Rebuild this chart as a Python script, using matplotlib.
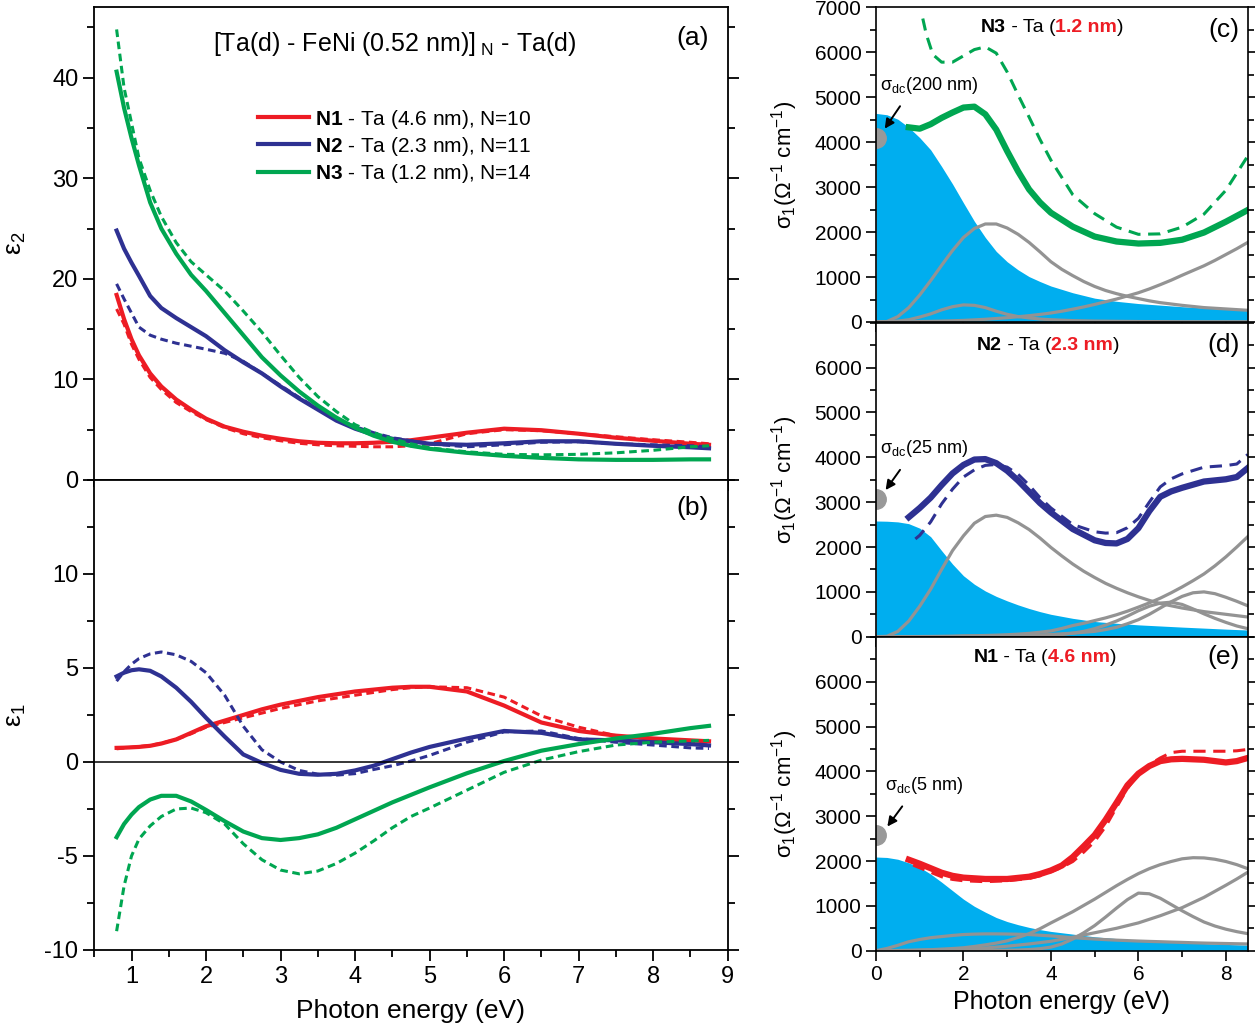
import numpy as np
import matplotlib
matplotlib.use('Agg')
import matplotlib.pyplot as plt
from matplotlib.ticker import MultipleLocator

plt.rcParams['font.family'] = ['Liberation Sans', 'DejaVu Sans']
plt.rcParams['mathtext.fontset'] = 'custom'
plt.rcParams['mathtext.rm'] = 'Liberation Sans'
plt.rcParams['mathtext.it'] = 'Liberation Sans:italic'
plt.rcParams['mathtext.bf'] = 'Liberation Sans:bold'
plt.rcParams['axes.unicode_minus'] = False

RED = '#ED1C24'
BLUE = '#2E3192'
GREEN = '#00A651'
CYAN = '#00AEEF'
GRAY = '#939393'

# ---------------- left panels: epsilon data ----------------
E = [0.8, 0.9, 1.0, 1.1, 1.25, 1.4, 1.6, 1.8, 2.0, 2.25, 2.5, 2.75, 3.0, 3.25, 3.5,
     3.75, 4.0, 4.25, 4.5, 4.75, 5.0, 5.5, 6.0, 6.5, 7.0, 7.5, 8.0, 8.5, 8.75]

eps2_n1 = [18.4, 16.0, 14.0, 12.4, 10.6, 9.3, 8.0, 7.0, 6.1, 5.3, 4.8, 4.4, 4.1, 3.85, 3.7,
           3.65, 3.65, 3.7, 3.8, 3.95, 4.2, 4.7, 5.1, 4.95, 4.6, 4.2, 3.9, 3.6, 3.5]
eps2_n1_dash = [17.0, 15.5, 13.5, 12.0, 10.2, 9.0, 7.7, 6.8, 6.0, 5.2, 4.6, 4.2, 3.9, 3.65, 3.5,
                3.4, 3.35, 3.3, 3.3, 3.4, 3.6, 4.6, 5.0, 4.9, 4.6, 4.3, 4.0, 3.75, 3.6]
eps2_n2 = [24.8, 23.0, 21.6, 20.3, 18.3, 17.1, 16.1, 15.2, 14.3, 12.9, 11.7, 10.6, 9.3, 8.1, 7.0,
           5.9, 5.1, 4.5, 4.1, 3.85, 3.6, 3.5, 3.65, 3.85, 3.85, 3.6, 3.4, 3.25, 3.15]
eps2_n2_dash = [19.5, 18.0, 16.6, 15.2, 14.4, 14.0, 13.6, 13.3, 13.0, 12.6, 11.8, 10.6, 9.4, 8.2, 7.1,
                6.1, 5.3, 4.7, 4.2, 3.9, 3.6, 3.3, 3.5, 3.75, 3.8, 3.6, 3.5, 3.4, 3.3]
eps2_n3 = [40.6, 37.0, 34.0, 31.3, 27.6, 25.0, 22.5, 20.4, 18.8, 16.6, 14.4, 12.2, 10.4, 8.8, 7.4,
           6.2, 5.2, 4.4, 3.8, 3.4, 3.1, 2.7, 2.4, 2.2, 2.05, 2.0, 2.0, 2.05, 2.05]
eps2_n3_dash = [44.8, 39.0, 35.5, 32.0, 28.8, 26.2, 23.6, 21.7, 20.4, 18.8, 16.8, 14.7, 12.4, 10.2, 8.3,
                6.8, 5.5, 4.7, 4.1, 3.6, 3.2, 2.8, 2.55, 2.5, 2.55, 2.7, 2.95, 3.3, 3.4]

eps1_n1 = [0.75, 0.76, 0.78, 0.8, 0.86, 0.98, 1.2, 1.55, 1.9, 2.2, 2.5, 2.8, 3.05, 3.25, 3.45,
           3.6, 3.75, 3.85, 3.95, 4.0, 4.0, 3.75, 3.0, 2.1, 1.65, 1.4, 1.25, 1.15, 1.1]
eps1_n1_dash = [0.7, 0.74, 0.78, 0.82, 0.88, 1.0, 1.2, 1.5, 1.85, 2.1, 2.35, 2.6, 2.85, 3.05, 3.25,
                3.4, 3.55, 3.7, 3.85, 3.95, 4.0, 3.95, 3.45, 2.45, 1.85, 1.4, 1.2, 1.1, 1.05]
eps1_n2 = [4.55, 4.75, 4.88, 4.93, 4.85, 4.55, 3.95, 3.2, 2.35, 1.35, 0.4, -0.05, -0.42, -0.63, -0.68,
           -0.63, -0.45, -0.2, 0.15, 0.5, 0.8, 1.25, 1.65, 1.55, 1.2, 1.15, 1.05, 0.95, 0.88]
eps1_n2_dash = [4.3, 4.8, 5.2, 5.5, 5.75, 5.85, 5.7, 5.35, 4.75, 3.55, 1.9, 0.65, 0.0, -0.45, -0.65,
                -0.7, -0.62, -0.4, -0.2, 0.05, 0.35, 1.05, 1.6, 1.65, 1.25, 1.05, 0.9, 0.75, 0.72]
eps1_n3 = [-4.0, -3.3, -2.8, -2.4, -2.0, -1.8, -1.8, -2.1, -2.55, -3.15, -3.7, -4.05, -4.15, -4.05, -3.85,
           -3.5, -3.05, -2.6, -2.15, -1.75, -1.35, -0.6, 0.05, 0.6, 0.95, 1.25, 1.5, 1.8, 1.92]
eps1_n3_dash = [-9.0, -6.6, -5.0, -4.1, -3.4, -2.9, -2.5, -2.45, -2.7, -3.3, -4.35, -5.2, -5.75, -5.95, -5.8,
                -5.4, -4.85, -4.2, -3.5, -2.9, -2.45, -1.5, -0.55, 0.1, 0.55, 0.9, 1.05, 1.12, 1.15]

# ---------------- right panels: sigma1 data ----------------
# grid for the oscillator (gray) curves
G = [0, 0.25, 0.5, 0.75, 1.0, 1.25, 1.5, 1.75, 2.0, 2.25, 2.5, 2.75, 3.0, 3.25, 3.5, 3.75,
     4.0, 4.25, 4.5, 4.75, 5.0, 5.25, 5.5, 5.75, 6.0, 6.25, 6.5, 6.75, 7.0, 7.25, 7.5, 7.75,
     8.0, 8.25, 8.5]
# grid for the Drude (filled) curves
D = [0, 0.25, 0.5, 0.75, 1.0, 1.25, 1.5, 1.75, 2.0, 2.25, 2.5, 2.75, 3.0, 3.25, 3.5, 3.75,
     4.0, 4.5, 5.0, 5.5, 6.0, 7.0, 8.0, 8.5]

# (c) N3
wc = [0.75, 1.0, 1.25, 1.5, 1.75, 2.0, 2.25, 2.5, 2.75, 3.0, 3.25, 3.5, 3.75, 4.0, 4.5,
      5.0, 5.5, 6.0, 6.5, 7.0, 7.5, 8.0, 8.5]
sig_n3 = [4330, 4300, 4400, 4540, 4660, 4770, 4790, 4620, 4280, 3800, 3350, 2950, 2660, 2430, 2120,
          1900, 1790, 1745, 1760, 1830, 1990, 2230, 2490]
wc_d = [1.07, 1.15, 1.3, 1.5, 1.75, 2.0, 2.25, 2.5, 2.75, 3.0, 3.25, 3.5, 3.75, 4.0, 4.5,
        5.0, 5.5, 6.0, 6.5, 7.0, 7.5, 8.0, 8.5]
sig_n3_dash = [6750, 6400, 5950, 5780, 5780, 5920, 6060, 6120, 5980, 5560, 5050, 4560, 4060, 3600, 2830,
               2410, 2110, 1950, 1960, 2110, 2400, 2930, 3690]
drude_n3 = [4640, 4610, 4510, 4330, 4100, 3830, 3460, 3070, 2650, 2240, 1880, 1570, 1340, 1160, 1010, 900,
            800, 650, 530, 460, 410, 340, 285, 260]
lor_n3 = [
    [0, 10, 120, 320, 600, 920, 1260, 1590, 1880, 2080, 2180, 2180, 2090, 1950, 1770, 1560,
     1340, 1170, 1030, 900, 790, 700, 630, 570, 520, 470, 430, 400, 370, 345, 320, 305,
     290, 275, 260],
    [0, 5, 20, 50, 110, 180, 270, 340, 380, 370, 320, 240, 170, 120, 90, 65,
     50, 40, 30, 25, 20, 18, 15, 13, 10, 9, 8, 7, 6, 6, 5, 5,
     5, 5, 5],
    [0, 1, 2, 4, 10, 14, 20, 27, 35, 47, 60, 77, 95, 117, 140, 168,
     200, 240, 285, 335, 390, 450, 510, 580, 650, 735, 830, 930, 1040, 1145, 1250, 1370,
     1500, 1630, 1770],
]
dc_n3 = 4100

# (d) N2
wd = [0.75, 1.0, 1.25, 1.5, 1.75, 2.0, 2.25, 2.5, 2.75, 3.0, 3.25, 3.5, 3.75, 4.0, 4.5,
      5.0, 5.25, 5.5, 5.75, 6.0, 6.25, 6.5, 6.75, 7.0, 7.5, 8.0, 8.25, 8.5]
sig_n2 = [2665, 2870, 3100, 3380, 3640, 3830, 3950, 3960, 3870, 3700, 3480, 3230, 2980, 2770, 2400,
          2150, 2090, 2080, 2180, 2420, 2800, 3120, 3240, 3320, 3460, 3510, 3560, 3760]
wd_d = [0.9, 1.0, 1.25, 1.5, 1.75, 2.0, 2.25, 2.5, 2.75, 3.0, 3.25, 3.5, 3.75, 4.0, 4.5,
        5.0, 5.25, 5.5, 5.75, 6.0, 6.25, 6.5, 6.75, 7.0, 7.5, 8.0, 8.25, 8.5]
sig_n2_dash = [2180, 2260, 2560, 2960, 3290, 3560, 3720, 3820, 3840, 3780, 3620, 3380, 3100, 2870, 2500,
               2340, 2310, 2320, 2430, 2640, 3000, 3340, 3520, 3630, 3780, 3815, 3850, 4060]
drude_n2 = [2580, 2575, 2560, 2520, 2420, 2230, 1920, 1620, 1360, 1170, 1020, 900, 800, 710, 630, 560,
            500, 410, 340, 300, 265, 215, 170, 150]
lor_n2 = [
    [0, 10, 120, 350, 680, 1060, 1500, 1920, 2250, 2530, 2680, 2710, 2660, 2540, 2390, 2200,
     1990, 1800, 1620, 1460, 1320, 1190, 1080, 980, 890, 810, 740, 690, 640, 600, 560, 530,
     500, 470, 440],
    [0, 0, 1, 2, 4, 6, 9, 12, 20, 23, 28, 35, 45, 58, 75, 100,
     130, 185, 250, 300, 360, 420, 490, 570, 660, 755, 860, 980, 1110, 1250, 1400, 1580,
     1780, 2000, 2230],
    [0, 0, 0, 1, 2, 3, 4, 6, 8, 10, 13, 16, 20, 25, 30, 40,
     50, 65, 80, 100, 120, 160, 210, 290, 380, 500, 640, 780, 900, 980, 1000, 960,
     880, 790, 690],
    [0, 0, 0, 0, 1, 2, 3, 4, 5, 6, 8, 10, 12, 15, 20, 25,
     35, 50, 80, 120, 180, 260, 350, 460, 580, 680, 750, 770, 720, 620, 510, 410,
     320, 240, 180],
]
dc_n2 = 3060

# (e) N1
we = [0.75, 1.0, 1.25, 1.5, 1.75, 2.0, 2.5, 3.0, 3.5, 3.75, 4.0, 4.25, 4.5, 4.75, 5.0,
      5.25, 5.5, 5.75, 6.0, 6.25, 6.5, 6.75, 7.0, 7.5, 8.0, 8.25, 8.5]
sig_n1 = [2030, 1940, 1840, 1740, 1670, 1630, 1600, 1600, 1650, 1710, 1790, 1900, 2090, 2330, 2580,
          2920, 3300, 3690, 3950, 4120, 4230, 4270, 4280, 4260, 4200, 4230, 4300]
we_d = [0.85, 1.0, 1.25, 1.5, 1.75, 2.0, 2.5, 3.0, 3.5, 3.75, 4.0, 4.25, 4.5, 4.75, 5.0,
        5.25, 5.5, 5.75, 6.0, 6.25, 6.5, 6.75, 7.0, 7.5, 8.0, 8.25, 8.5]
sig_n1_dash = [1910, 1850, 1750, 1650, 1590, 1560, 1540, 1560, 1610, 1670, 1760, 1860, 1990, 2200, 2440,
               2770, 3200, 3620, 3930, 4150, 4300, 4420, 4450, 4450, 4450, 4460, 4490]
drude_n1 = [2090, 2080, 2040, 1960, 1860, 1710, 1530, 1340, 1150, 990, 860, 740, 650, 580, 520, 470,
            430, 370, 310, 270, 230, 180, 140, 125]
lor_n1 = [
    [0, 50, 120, 200, 250, 290, 315, 340, 360, 370, 375, 375, 372, 367, 360, 345,
     330, 310, 290, 275, 260, 247, 235, 225, 215, 207, 200, 192, 185, 177, 170, 165,
     160, 155, 150],
    [0, 0, 5, 7, 15, 22, 35, 48, 65, 95, 130, 170, 220, 295, 380, 490,
     620, 745, 870, 1010, 1150, 1300, 1450, 1590, 1720, 1830, 1920, 1990, 2050, 2075, 2070, 2040,
     1990, 1920, 1830],
    [0, 0, 0, 0, 0, 1, 1, 2, 3, 4, 6, 8, 10, 15, 25, 45,
     80, 150, 260, 400, 560, 750, 950, 1140, 1285, 1270, 1170, 1030, 890, 760, 640, 550,
     480, 425, 380],
    [0, 1, 3, 6, 10, 16, 22, 30, 40, 50, 60, 80, 100, 125, 150, 180,
     210, 255, 300, 350, 400, 450, 500, 560, 620, 700, 780, 870, 960, 1075, 1190, 1325,
     1460, 1600, 1750],
]
dc_n1 = 2590

fig = plt.figure(figsize=(12.55, 10.3), dpi=100)

# ---------------- (a) ----------------
ax_a = fig.add_axes([0.0751, 0.5340, 0.5047, 0.4589])
ax_b = fig.add_axes([0.0751, 0.0777, 0.5047, 0.4563], sharex=ax_a)

l1, = ax_a.plot(E, eps2_n1, color=RED, lw=3)
ax_a.plot(E, eps2_n1_dash, color=RED, lw=2.2, ls=(0, (2.5, 1.5)))
l2, = ax_a.plot(E, eps2_n2, color=BLUE, lw=3)
ax_a.plot(E, eps2_n2_dash, color=BLUE, lw=2.2, ls=(0, (2.5, 1.5)))
l3, = ax_a.plot(E, eps2_n3, color=GREEN, lw=3)
ax_a.plot(E, eps2_n3_dash, color=GREEN, lw=2.2, ls=(0, (2.5, 1.5)))

ax_a.set_ylim(0, 47)
ax_a.yaxis.set_major_locator(MultipleLocator(10))
ax_a.yaxis.set_minor_locator(MultipleLocator(5))
ax_a.set_ylabel('ε$_{2}$', fontsize=19)
ax_a.yaxis.set_label_coords(-0.105, 0.5)
plt.setp(ax_a.get_xticklabels(), visible=False)

ax_a.legend([l1, l2, l3],
            [r'$\mathbf{N1}$ - Ta (4.6 nm), N=10',
             r'$\mathbf{N2}$ - Ta (2.3 nm), N=11',
             r'$\mathbf{N3}$ - Ta (1.2 nm), N=14'],
            loc='upper left', bbox_to_anchor=(0.258, 0.788), frameon=False,
            fontsize=15, handlelength=2.45, handletextpad=0.3, labelspacing=0.2,
            borderpad=0, borderaxespad=0)
ax_a.text(0.475, 0.922, r'[Ta(d) - FeNi (0.52 nm)]$_{\ \mathrm{N}}$ - Ta(d)',
          transform=ax_a.transAxes, ha='center', va='center', fontsize=18)
ax_a.text(0.944, 0.935, '(a)', transform=ax_a.transAxes, ha='center', va='center', fontsize=19)

# ---------------- (b) ----------------
ax_b.plot(E, eps1_n1, color=RED, lw=3)
ax_b.plot(E, eps1_n1_dash, color=RED, lw=2.2, ls=(0, (2.5, 1.5)))
ax_b.plot(E, eps1_n2, color=BLUE, lw=3)
ax_b.plot(E, eps1_n2_dash, color=BLUE, lw=2.2, ls=(0, (2.5, 1.5)))
ax_b.plot(E, eps1_n3, color=GREEN, lw=3)
ax_b.plot(E, eps1_n3_dash, color=GREEN, lw=2.2, ls=(0, (2.5, 1.5)))
ax_b.axhline(0, color='black', lw=1.1)

ax_b.set_xlim(0.5, 9)
ax_b.set_ylim(-10, 15)
ax_b.xaxis.set_major_locator(MultipleLocator(1))
ax_b.xaxis.set_minor_locator(MultipleLocator(0.5))
ax_b.yaxis.set_major_locator(MultipleLocator(5))
ax_b.yaxis.set_minor_locator(MultipleLocator(2.5))
ax_b.set_yticks([-10, -5, 0, 5, 10])
ax_b.set_ylabel('ε$_{1}$', fontsize=19)
ax_b.yaxis.set_label_coords(-0.105, 0.5)
ax_b.set_xlabel('Photon energy (eV)', fontsize=19, labelpad=8)
ax_b.text(0.945, 0.94, '(b)', transform=ax_b.transAxes, ha='center', va='center', fontsize=19)

for ax in (ax_a, ax_b):
    ax.tick_params(which='both', direction='out', right=True, top=False, width=1.3, labelsize=17)
    ax.tick_params(which='major', length=8)
    ax.tick_params(which='minor', length=5)
    for s in ax.spines.values():
        s.set_linewidth(1.3)

# ---------------- right panels ----------------
ax_c = fig.add_axes([0.698, 0.6874, 0.2962, 0.3055])
ax_d = fig.add_axes([0.698, 0.3818, 0.2962, 0.3049], sharex=ax_c)
ax_e = fig.add_axes([0.698, 0.0770, 0.2962, 0.3046], sharex=ax_c)

panels = [
    (ax_c, wc, sig_n3, wc_d, sig_n3_dash, drude_n3, lor_n3, dc_n3, GREEN,
     'N3', '1.2 nm', 0.282, 0.92, '(c)', 0.928, '200 nm', (0.09, 5150), (0.55, 4800), (0.2, 4300)),
    (ax_d, wd, sig_n2, wd_d, sig_n2_dash, drude_n2, lor_n2, dc_n2, BLUE,
     'N2', '2.3 nm', 0.271, 0.913, '(d)', 0.929, '25 nm', (0.09, 4100), (0.55, 3720), (0.22, 3270)),
    (ax_e, we, sig_n1, we_d, sig_n1_dash, drude_n1, lor_n1, dc_n1, RED,
     'N1', '4.6 nm', 0.262, 0.92, '(e)', 0.936, '5 nm', (0.2, 3580), (0.6, 3220), (0.26, 2770)),
]

fig.canvas.draw()
renderer = fig.canvas.get_renderer()

for (ax, w, s, wdash, sdash, dr, lors, dc, col, name, thick, tx, ty,
     lab, laby, dctxt, dcpos, arr_from, arr_to) in panels:
    ax.fill_between(D, 0, dr, color=CYAN, lw=0)
    for lo in lors:
        ax.plot(G, lo, color=GRAY, lw=2.3)
    ax.plot(wdash, sdash, color=col, lw=2.2, ls=(0, (4, 2.5)))
    ax.plot(w, s, color=col, lw=4.5)
    ax.plot([0], [dc], 'o', color='#999999', ms=14)
    ax.annotate('', xy=arr_to, xytext=arr_from,
                arrowprops=dict(arrowstyle='-|>', color='black', lw=1.4, mutation_scale=14,
                                shrinkA=0, shrinkB=0))
    ax.text(dcpos[0], dcpos[1], 'σ$_{\\mathrm{dc}}$(' + dctxt + ')', fontsize=13,
            ha='left', va='baseline')

    ax.set_xlim(0, 8.5)
    ax.set_ylim(0, 7000)
    ax.xaxis.set_major_locator(MultipleLocator(2))
    ax.xaxis.set_minor_locator(MultipleLocator(1))
    ax.yaxis.set_major_locator(MultipleLocator(1000))
    ax.yaxis.set_minor_locator(MultipleLocator(500))
    if ax is not ax_c:
        ax.set_yticks([0, 1000, 2000, 3000, 4000, 5000, 6000])
    ax.set_ylabel('σ$_{1}$(Ω$^{-1}$ cm$^{-1}$)', fontsize=16)
    ax.yaxis.set_label_coords(-0.205, 0.5)
    ax.tick_params(which='both', direction='out', right=True, top=False, width=1.2, labelsize=15)
    ax.tick_params(which='major', length=7)
    ax.tick_params(which='minor', length=4)
    for sp in ax.spines.values():
        sp.set_linewidth(1.2)
    if ax is not ax_e:
        plt.setp(ax.get_xticklabels(), visible=False)
    ax.text(0.936, laby, lab, transform=ax.transAxes, ha='center', va='center', fontsize=19)

    # mixed-colour title
    pieces = [(name, 'black', 'bold'), (' - Ta (', 'black', 'normal'),
              (thick, RED, 'bold'), (')', 'black', 'normal')]
    x = tx
    for txt, c, fw in pieces:
        t = ax.text(x, ty, txt, transform=ax.transAxes, color=c, fontweight=fw,
                    fontsize=14, ha='left', va='baseline')
        bb = t.get_window_extent(renderer)
        x = ax.transAxes.inverted().transform((bb.x1, bb.y0))[0]

ax_e.set_xlabel('Photon energy (eV)', fontsize=18, labelpad=4)

fig.savefig('out.png', dpi=100)
